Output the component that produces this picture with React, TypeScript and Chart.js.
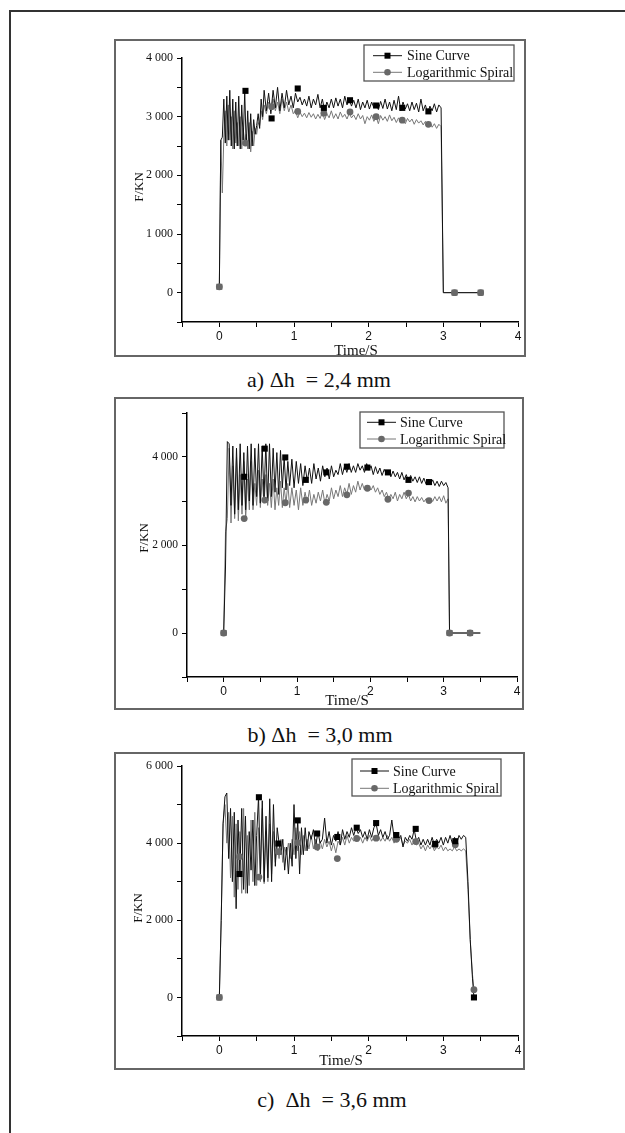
import React, { useEffect, useRef } from 'react';
import { Chart, registerables } from 'chart.js';

Chart.register(...registerables);

const SERIF = '"Liberation Serif", "Times New Roman", serif';
const SANS = '"Liberation Sans", Arial, sans-serif';

// ---------- text ----------
const seriesNames = ['Sine Curve', 'Logarithmic Spiral'];
const captions = ['a) \u0394h  = 2,4 mm', 'b) \u0394h  = 3,0 mm', 'c)  \u0394h  = 3,6 mm'];
const xTitle = 'Time/S';
const yTitle = 'F/KN';
const xTickValues = [0, 1, 2, 3, 4];
const yTickValuesA = [0, 1000, 2000, 3000, 4000];
const yTickValuesB = [0, 2000, 4000];
const yTickValuesC = [0, 2000, 4000, 6000];

// ---------- panel a) dh = 2,4 mm ----------
const timeA = [
  0, 0.02, 0.04, 0.06, 0.08, 0.1, 0.12, 0.14, 0.16, 0.18,
  0.2, 0.22, 0.24, 0.26, 0.28, 0.3, 0.32, 0.34, 0.36, 0.38,
  0.4, 0.42, 0.44, 0.46, 0.48, 0.5, 0.52, 0.54, 0.56, 0.58,
  0.6, 0.63, 0.66, 0.69, 0.72, 0.75, 0.78, 0.81, 0.84, 0.87,
  0.9, 0.93, 0.96, 0.99, 1.02, 1.05, 1.08, 1.11, 1.14, 1.17,
  1.2, 1.23, 1.26, 1.29, 1.32, 1.35, 1.38, 1.41, 1.44, 1.47,
  1.5, 1.53, 1.56, 1.59, 1.62, 1.65, 1.68, 1.71, 1.74, 1.77,
  1.8, 1.83, 1.86, 1.89, 1.92, 1.95, 1.98, 2.01, 2.04, 2.07,
  2.1, 2.13, 2.16, 2.19, 2.22, 2.25, 2.28, 2.31, 2.34, 2.37,
  2.4, 2.43, 2.46, 2.49, 2.52, 2.55, 2.58, 2.61, 2.64, 2.67,
  2.7, 2.73, 2.76, 2.79, 2.82, 2.85, 2.88, 2.91, 2.94, 2.97,
  3.0, 3.15, 3.5,
];
const sineA = [
  100, 2600, 2650, 3300, 2550, 3350, 2600, 3450, 2500, 3300,
  2450, 3250, 2500, 3350, 2450, 3200, 2600, 3420, 2500, 3100,
  2450, 3050, 2500, 2950, 2700, 2850, 3050, 2800, 3300, 3000,
  3450, 3100, 3400, 3050, 3450, 3150, 3500, 3100, 3400, 3150,
  3450, 3200, 3350, 3150, 3400, 3250, 3330, 3200, 3300, 3180,
  3350, 3150, 3300, 3200, 3380, 3150, 3300, 3100, 3250, 3150,
  3300, 3150, 3320, 3180, 3300, 3150, 3350, 3200, 3300, 3180,
  3280, 3150, 3300, 3120, 3250, 3150, 3280, 3130, 3250, 3150,
  3230, 3120, 3260, 3140, 3300, 3130, 3250, 3100, 3280, 3120,
  3350, 3100, 3250, 3130, 3220, 3100, 3250, 3120, 3230, 3080,
  3300, 3100, 3200, 3050, 3180, 3100, 3220, 3080, 3200, 3150,
  0, 0, 0,
];
const logA = [
  100, 2600, 1700, 2650, 3100, 2500, 3200, 2600, 3000, 2450,
  3100, 2550, 2900, 2500, 3000, 2450, 2800, 2550, 2700, 2450,
  2900, 2400, 2750, 2500, 2800, 2700, 2900, 2850, 3100, 2950,
  3200, 3050, 3250, 3100, 3300, 3100, 3250, 3050, 3300, 3100,
  3250, 3080, 3200, 3050, 3100, 2980, 3080, 3000, 3060, 2980,
  3070, 2990, 3050, 2960, 3040, 2970, 3080, 2950, 3050, 2980,
  3100, 2970, 3050, 2960, 3080, 2990, 3040, 2960, 3060, 2980,
  3030, 2950, 3050, 2960, 3020, 2880, 3000, 2940, 3030, 2920,
  3000, 2880, 3020, 2940, 3000, 2920, 3030, 2930, 2990, 2900,
  2980, 2900, 2950, 2880, 2970, 2910, 2960, 2870, 2950, 2890,
  2930, 2860, 2920, 2850, 2900, 2820, 2880, 2800, 2870, 2830,
  0, 0, 0,
];
const markTimeA = [0, 0.35, 0.7, 1.05, 1.4, 1.75, 2.1, 2.45, 2.8, 3.15, 3.5];
const sineMarkA = [100, 3440, 2970, 3480, 3150, 3280, 3190, 3150, 3090, 0, 0];
const logMarkA = [100, 2550, 3170, 3090, 3060, 3080, 3000, 2940, 2870, 0, 0];

// ---------- panel b) dh = 3,0 mm ----------
const timeB = [
  0, 0.025, 0.05, 0.075, 0.1, 0.125, 0.15, 0.175, 0.2, 0.225,
  0.25, 0.275, 0.3, 0.325, 0.35, 0.375, 0.4, 0.425, 0.45, 0.475,
  0.5, 0.525, 0.55, 0.575, 0.6, 0.625, 0.65, 0.675, 0.7, 0.725,
  0.75, 0.775, 0.8, 0.825, 0.85, 0.875, 0.9, 0.93, 0.96, 0.99,
  1.02, 1.05, 1.08, 1.11, 1.14, 1.17, 1.2, 1.23, 1.26, 1.29,
  1.32, 1.35, 1.38, 1.41, 1.44, 1.47, 1.5, 1.53, 1.56, 1.59,
  1.62, 1.65, 1.68, 1.71, 1.74, 1.77, 1.8, 1.83, 1.86, 1.89,
  1.92, 1.95, 1.98, 2.01, 2.04, 2.07, 2.1, 2.13, 2.16, 2.19,
  2.22, 2.25, 2.28, 2.31, 2.34, 2.37, 2.4, 2.43, 2.46, 2.49,
  2.52, 2.55, 2.58, 2.61, 2.64, 2.67, 2.7, 2.73, 2.76, 2.79,
  2.82, 2.85, 2.88, 2.91, 2.94, 2.97, 3.0, 3.03, 3.06, 3.08,
  3.36, 3.5,
];
const sineB = [
  0, 1500, 4350, 4300, 2900, 4250, 2700, 4200, 2800, 4300,
  2900, 4100, 2800, 4250, 3000, 4300, 2900, 4200, 3100, 4300,
  2950, 4250, 3100, 4300, 3000, 4300, 3100, 4200, 3200, 4100,
  3150, 4150, 3300, 4000, 3250, 3900, 3350, 3950, 3300, 3900,
  3400, 3850, 3350, 3800, 3450, 3750, 3400, 3850, 3500, 3750,
  3450, 3800, 3550, 3750, 3500, 3800, 3550, 3700, 3600, 3850,
  3600, 3800, 3650, 3850, 3650, 3800, 3650, 3850, 3700, 3800,
  3650, 3850, 3700, 3800, 3600, 3780, 3620, 3750, 3580, 3720,
  3600, 3700, 3550, 3680, 3550, 3650, 3500, 3650, 3480, 3600,
  3450, 3580, 3450, 3550, 3420, 3550, 3400, 3520, 3380, 3500,
  3380, 3480, 3350, 3450, 3330, 3450, 3350, 3420, 3300, 0,
  0, 0,
];
const logB = [
  0, 2300, 2600, 4200, 2500, 3800, 2600, 4000, 2550, 3600,
  2700, 3900, 2600, 3500, 2800, 3900, 2800, 3400, 2900, 3700,
  2850, 3500, 2950, 3600, 2900, 3400, 2850, 3500, 2800, 3300,
  2900, 3450, 2850, 3300, 2950, 3400, 2850, 3300, 2900, 3250,
  2800, 3300, 2900, 3200, 2950, 3250, 2900, 3150, 2950, 3200,
  3000, 3250, 2950, 3150, 3000, 3300, 3050, 3250, 3100, 3350,
  3100, 3300, 3150, 3400, 3150, 3350, 3200, 3450, 3250, 3400,
  3250, 3350, 3300, 3250, 3350, 3200, 3300, 3150, 3250, 3100,
  3200, 3050, 3150, 3050, 3200, 3000, 3150, 3050, 3200, 3050,
  3150, 3000, 3100, 2980, 3100, 3000, 3080, 2980, 3050, 2970,
  3050, 2990, 3100, 3000, 3100, 2980, 3120, 2950, 3050, 0,
  0, 0,
];
const markTimeB = [0, 0.28, 0.56, 0.84, 1.12, 1.4, 1.68, 1.96, 2.24, 2.52, 2.8, 3.08, 3.36];
const sineMarkB = [0, 3550, 4190, 3990, 3480, 3650, 3780, 3760, 3650, 3480, 3430, 0, 0];
const logMarkB = [0, 2600, 3020, 2960, 3020, 2970, 3140, 3290, 3040, 3180, 3010, 0, 0];

// ---------- panel c) dh = 3,6 mm ----------
const timeC = [
  0, 0.025, 0.05, 0.075, 0.1, 0.125, 0.15, 0.175, 0.2, 0.225,
  0.25, 0.275, 0.3, 0.325, 0.35, 0.375, 0.4, 0.425, 0.45, 0.475,
  0.5, 0.525, 0.55, 0.575, 0.6, 0.625, 0.65, 0.675, 0.7, 0.725,
  0.75, 0.775, 0.8, 0.825, 0.85, 0.875, 0.9, 0.925, 0.95, 0.975,
  1.0, 1.025, 1.05, 1.075, 1.1, 1.125, 1.15, 1.175, 1.2, 1.23,
  1.26, 1.29, 1.32, 1.35, 1.38, 1.41, 1.44, 1.47, 1.5, 1.53,
  1.56, 1.59, 1.62, 1.65, 1.68, 1.71, 1.74, 1.77, 1.8, 1.83,
  1.86, 1.89, 1.92, 1.95, 1.98, 2.01, 2.04, 2.07, 2.1, 2.13,
  2.16, 2.19, 2.22, 2.25, 2.28, 2.31, 2.34, 2.37, 2.4, 2.43,
  2.46, 2.49, 2.52, 2.55, 2.58, 2.61, 2.64, 2.67, 2.7, 2.73,
  2.76, 2.79, 2.82, 2.85, 2.88, 2.91, 2.94, 2.97, 3.0, 3.03,
  3.06, 3.09, 3.12, 3.15, 3.18, 3.21, 3.24, 3.27, 3.3, 3.33,
  3.36, 3.39, 3.41, 3.45,
];
const sineC = [
  0, 2000, 4500, 5200, 5300, 3600, 4900, 3000, 4800, 2300,
  4600, 3200, 4900, 2800, 4700, 2700, 4300, 3300, 4600, 2900,
  4200, 5200, 3200, 5100, 3000, 4700, 3100, 5150, 3000, 5000,
  3400, 4400, 4000, 3700, 4100, 3300, 3900, 3200, 4000, 3400,
  5000, 3600, 4600, 3200, 4400, 3700, 4400, 3800, 4300, 4100,
  4350, 3900, 4300, 4000, 4100, 4650, 4000, 4300, 3950, 4200,
  4050, 4300, 3950, 4350, 4100, 4300, 4150, 4400, 4200, 4400,
  4250, 4350, 4150, 4300, 4100, 4350, 4150, 4400, 4500, 4200,
  4350, 4150, 4300, 4100, 4200, 4600, 4150, 4250, 4100, 4200,
  3900, 4150, 4050, 4200, 4100, 4350, 4050, 4150, 3950, 4100,
  3950, 4100, 3950, 4150, 3950, 4100, 4000, 4150, 3950, 4150,
  4000, 4200, 4000, 4150, 4000, 4200, 4100, 4200, 4150, 3000,
  1500, 500, 0, 0,
];
const logC = [
  0, 2000, 4500, 5000, 4000, 4800, 3100, 4700, 2600, 4500,
  2800, 4300, 2700, 4900, 2700, 4200, 2900, 4600, 3000, 4800,
  2900, 4400, 3000, 4900, 2950, 4300, 3000, 4500, 3200, 4300,
  3500, 4000, 3600, 4100, 3500, 3900, 3700, 4000, 3600, 4100,
  3700, 4400, 3800, 4300, 3700, 4200, 3800, 4100, 3850, 4200,
  3850, 4100, 3800, 4050, 3850, 4100, 3900, 4050, 3800, 4000,
  3750, 4050, 3950, 4150, 3950, 4200, 4000, 4150, 4050, 4200,
  4050, 4150, 4000, 4150, 4050, 4200, 4050, 4150, 4100, 4200,
  4050, 4150, 4050, 4200, 4050, 4150, 4000, 4100, 4050, 4150,
  3950, 4050, 4000, 4100, 3950, 4050, 3950, 4000, 3850, 3950,
  3800, 3950, 3850, 3950, 3800, 3900, 3850, 3950, 3800, 3900,
  3800, 3850, 3800, 3900, 3800, 3850, 3800, 3850, 3800, 2800,
  1500, 600, 200, null,
];
const markTimeC = [0, 0.27, 0.53, 0.79, 1.05, 1.31, 1.58, 1.84, 2.1, 2.37, 2.63, 2.89, 3.16, 3.41];
const sineMarkC = [0, 3200, 5190, 3990, 4590, 4250, 4160, 4400, 4520, 4210, 4370, 3980, 4050, 0];
const logMarkC = [0, 3650, 3120, 3780, 4010, 3900, 3600, 4120, 4130, 4100, 4040, 3950, 3960, 200];

// ---------- helpers ----------
function fmtThousands(v: number): string {
  if (v === 0) return '0';
  const th = Math.floor(v / 1000);
  const rest = String(v % 1000).padStart(3, '0');
  return `${th} ${rest}`;
}

const SINE_COLOR = '#111111';
const LOG_LINE = '#777777';
const LOG_MARK = '#686868';

const originLegend = {
  id: 'originLegend',
  afterDatasetsDraw(chart: any, _args: any, opts: any) {
    if (!opts || opts.w === undefined) return;
    const ctx = chart.ctx;
    const { x, y, w, h, rows, x1, x2, tx, size } = opts;
    ctx.save();
    ctx.fillStyle = '#ffffff';
    ctx.fillRect(x, y, w, h);
    ctx.strokeStyle = '#555555';
    ctx.lineWidth = 1.3;
    ctx.strokeRect(x, y, w, h);
    const styles = [
      { line: SINE_COLOR, fill: '#000000', shape: 'rect' },
      { line: LOG_LINE, fill: LOG_MARK, shape: 'circle' },
    ];
    styles.forEach((s, i) => {
      const cy = rows[i];
      ctx.strokeStyle = s.line;
      ctx.lineWidth = 1;
      ctx.beginPath();
      ctx.moveTo(x1, cy);
      ctx.lineTo(x2, cy);
      ctx.stroke();
      const cx = (x1 + x2) / 2;
      ctx.fillStyle = s.fill;
      if (s.shape === 'rect') {
        ctx.fillRect(cx - 3, cy - 3, 6, 6);
      } else {
        ctx.beginPath();
        ctx.arc(cx, cy, 3.3, 0, Math.PI * 2);
        ctx.fill();
      }
      ctx.fillStyle = '#111111';
      ctx.font = `${size}px ${SERIF}`;
      ctx.textBaseline = 'middle';
      ctx.textAlign = 'left';
      ctx.fillText(seriesNames[i], tx, cy + 1);
    });
    ctx.restore();
  },
};

type PanelCfg = {
  t: number[]; s: (number | null)[]; l: (number | null)[];
  mt: number[]; sm: number[]; lm: number[];
  grayIdx: number[];
  yMin: number; yMax: number; yStep: number; yLabels: number[]; yFont: number;
  frame: { x: number; y: number; w: number; h: number };
  yAxisW: number; xAxisH: number; padTop: number; padRight: number;
  legend: { x: number; y: number; w: number; h: number; rows: number[]; x1: number; x2: number; tx: number; size: number };
  yTitlePos: { x: number; y: number };
  xTitlePos: { x: number; y: number };
  caption: string;
  captionPos: { x: number; y: number };
};

const panels: PanelCfg[] = [
  {
    t: timeA, s: sineA, l: logA, mt: markTimeA, sm: sineMarkA, lm: logMarkA, grayIdx: [0, 9, 10],
    yMin: -500, yMax: 4000, yStep: 500, yLabels: yTickValuesA, yFont: 12,
    frame: { x: 114, y: 39, w: 412, h: 318 },
    yAxisW: 68, xAxisH: 35, padTop: 19, padRight: 8,
    legend: { x: 364, y: 45, w: 150, h: 36, rows: [55.7, 72.3], x1: 373, x2: 402, tx: 407, size: 14 },
    yTitlePos: { x: 138, y: 187 }, xTitlePos: { x: 356, y: 350 },
    caption: captions[0], captionPos: { x: 319, y: 380 },
  },
  {
    t: timeB, s: sineB, l: logB, mt: markTimeB, sm: sineMarkB, lm: logMarkB, grayIdx: [0, 11, 12],
    yMin: -1000, yMax: 5000, yStep: 1000, yLabels: yTickValuesB, yFont: 11.5,
    frame: { x: 114, y: 397, w: 410, h: 313 },
    yAxisW: 73, xAxisH: 33, padTop: 16, padRight: 7,
    legend: { x: 360, y: 412, w: 144, h: 36, rows: [422.3, 439], x1: 367, x2: 396, tx: 400, size: 14 },
    yTitlePos: { x: 143, y: 538 }, xTitlePos: { x: 347, y: 700 },
    caption: captions[1], captionPos: { x: 320, y: 735 },
  },
  {
    t: timeC, s: sineC, l: logC, mt: markTimeC, sm: sineMarkC, lm: logMarkC, grayIdx: [0],
    yMin: -1000, yMax: 6000, yStep: 1000, yLabels: yTickValuesC, yFont: 12,
    frame: { x: 114, y: 752, w: 411, h: 318 },
    yAxisW: 68, xAxisH: 34, padTop: 14, padRight: 7,
    legend: { x: 352, y: 759, w: 149, h: 37, rows: [771, 788.3], x1: 360, x2: 389, tx: 393, size: 14 },
    yTitlePos: { x: 137, y: 908 }, xTitlePos: { x: 341, y: 1060 },
    caption: captions[2], captionPos: { x: 332, y: 1100 },
  },
];

function Panel({ p }: { p: PanelCfg }) {
  const ref = useRef<HTMLCanvasElement>(null);
  useEffect(() => {
    const f = p.frame;
    const pts = (ts: number[], vs: (number | null)[]) => ts.map((t, i) => ({ x: t, y: vs[i] }));
    const lg = p.legend;
    const chart = new Chart(ref.current as HTMLCanvasElement, {
      type: 'scatter',
      data: {
        datasets: [
          {
            data: pts(p.mt, p.sm) as any,
            pointStyle: 'rect',
            pointRadius: 4.3,
            pointBackgroundColor: p.sm.map((_, i) => (p.grayIdx.includes(i) ? LOG_MARK : '#000000')),
            pointBorderWidth: 0,
            pointBorderColor: 'rgba(0,0,0,0)',
            showLine: false,
            order: 0,
          },
          {
            data: pts(p.mt, p.lm) as any,
            pointStyle: 'circle',
            pointRadius: 3.4,
            pointBackgroundColor: LOG_MARK,
            pointBorderWidth: 0,
            pointBorderColor: 'rgba(0,0,0,0)',
            showLine: false,
            order: 1,
          },
          {
            data: pts(p.t, p.s) as any,
            showLine: true,
            borderColor: SINE_COLOR,
            borderWidth: 1,
            pointRadius: 0,
            tension: 0,
            order: 2,
          },
          {
            data: pts(p.t, p.l) as any,
            showLine: true,
            borderColor: LOG_LINE,
            borderWidth: 1,
            pointRadius: 0,
            tension: 0,
            order: 3,
          },
        ],
      },
      options: {
        animation: false,
        responsive: false,
        maintainAspectRatio: false,
        devicePixelRatio: 1,
        events: [],
        layout: { padding: { top: p.padTop, right: p.padRight, left: 0, bottom: 0 } },
        plugins: {
          legend: { display: false },
          tooltip: { enabled: false },
          originLegend: {
            x: lg.x - f.x, y: lg.y - f.y, w: lg.w, h: lg.h,
            rows: lg.rows.map((r) => r - f.y),
            x1: lg.x1 - f.x, x2: lg.x2 - f.x, tx: lg.tx - f.x, size: lg.size,
          },
        } as any,
        scales: {
          x: {
            type: 'linear',
            min: -0.5,
            max: 4,
            afterFit: (s: any) => { s.height = p.xAxisH; },
            ticks: {
              stepSize: 0.5,
              autoSkip: false,
              maxRotation: 0,
              padding: 2,
              color: '#111111',
              font: { family: SANS, size: 12 },
              callback: (v: any) => {
                const n = Number(v);
                const hit = xTickValues.find((k) => Math.abs(k - n) < 1e-6);
                return hit === undefined ? '' : String(hit);
              },
            },
            grid: { drawOnChartArea: false, drawTicks: true, tickLength: 5, tickColor: '#000000', tickWidth: 1 },
            border: { display: true, color: '#000000', width: 1.5 },
          },
          y: {
            type: 'linear',
            min: p.yMin,
            max: p.yMax,
            afterFit: (s: any) => { s.width = p.yAxisW; },
            ticks: {
              stepSize: p.yStep,
              autoSkip: false,
              padding: 4,
              color: '#111111',
              font: { family: SERIF, size: p.yFont },
              callback: (v: any) => {
                const n = Math.round(Number(v));
                return p.yLabels.includes(n) ? fmtThousands(n) : '';
              },
            },
            grid: { drawOnChartArea: false, drawTicks: true, tickLength: 5, tickColor: '#000000', tickWidth: 1 },
            border: { display: true, color: '#000000', width: 1.5 },
          },
        },
      },
      plugins: [originLegend as any],
    });
    return () => chart.destroy();
  }, []);

  const f = p.frame;
  return (
    <>
      <canvas
        ref={ref}
        width={f.w}
        height={f.h}
        style={{ position: 'absolute', left: f.x, top: f.y, width: f.w, height: f.h, display: 'block' }}
      />
      <div
        style={{
          position: 'absolute', left: f.x, top: f.y, width: f.w, height: f.h,
          border: '2px solid #666666', boxSizing: 'border-box', pointerEvents: 'none',
        }}
      />
      <div
        style={{
          position: 'absolute', left: p.yTitlePos.x, top: p.yTitlePos.y,
          transform: 'translate(-50%, -50%) rotate(-90deg)', whiteSpace: 'nowrap',
          fontFamily: SERIF, fontSize: 13, color: '#111111', lineHeight: 1,
        }}
      >
        {yTitle}
      </div>
      <div
        style={{
          position: 'absolute', left: p.xTitlePos.x, top: p.xTitlePos.y,
          transform: 'translate(-50%, -50%)', whiteSpace: 'nowrap',
          fontFamily: SERIF, fontSize: 15, color: '#111111', lineHeight: 1,
        }}
      >
        {xTitle}
      </div>
      <div
        style={{
          position: 'absolute', left: p.captionPos.x, top: p.captionPos.y,
          transform: 'translate(-50%, -50%)', whiteSpace: 'pre',
          fontFamily: SERIF, fontSize: 22, color: '#111111', lineHeight: 1,
        }}
      >
        {p.caption}
      </div>
    </>
  );
}

export default function App() {
  return (
    <div style={{ position: 'absolute', left: 0, top: 0, width: 625, height: 1133, overflow: 'hidden', background: '#ffffff' }}>
      <div
        style={{
          position: 'absolute', left: 9, top: 10, width: 616, height: 1123,
          borderLeft: '2px solid #333333', borderTop: '2px solid #333333', boxSizing: 'border-box',
        }}
      />
      {panels.map((p, i) => (
        <Panel key={i} p={p} />
      ))}
    </div>
  );
}
